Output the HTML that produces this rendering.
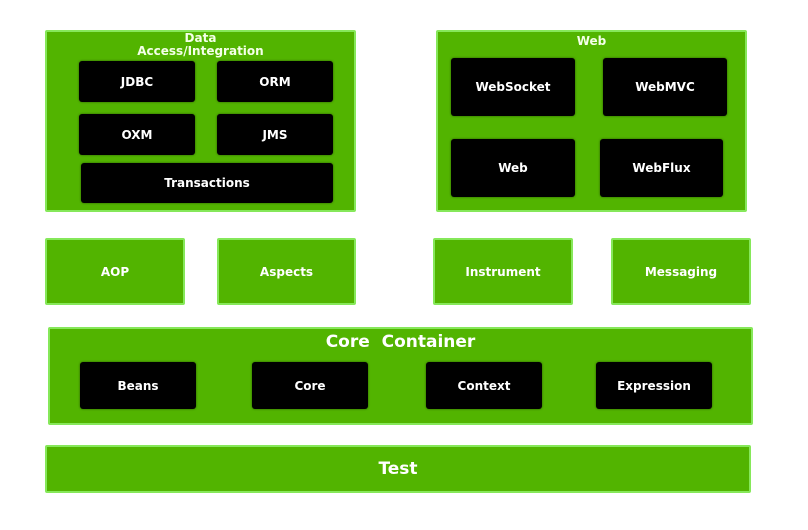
<!DOCTYPE html>
<html><head><style>
body{margin:0;width:808px;height:530px;background:#fff;position:relative;overflow:hidden;font-family:"DejaVu Sans","Liberation Sans",sans-serif;font-weight:bold;}
.g{position:absolute;background:#52b400;border:2px solid #86e85a;box-sizing:border-box;border-radius:2px;color:#fff;}
.b{position:absolute;background:#000;border-radius:3px;color:#fff;display:flex;align-items:center;justify-content:center;font-size:12px;box-shadow:0 0 2px #2a5a00;}
.c{display:flex;align-items:center;justify-content:center;font-size:12px;}
.t{position:absolute;text-align:center;font-size:12px;line-height:13px;color:#f4ffe8;}
</style></head><body>
<div class="g" style="left:45px;top:30px;width:311px;height:182px"></div>
<div class="t" style="left:45px;width:311px;top:32px;">Data<br>Access/Integration</div>
<div class="b" style="left:79px;top:61px;width:116px;height:41px">JDBC</div>
<div class="b" style="left:217px;top:61px;width:116px;height:41px">ORM</div>
<div class="b" style="left:79px;top:114px;width:116px;height:41px">OXM</div>
<div class="b" style="left:217px;top:114px;width:116px;height:41px">JMS</div>
<div class="b" style="left:81px;top:163px;width:252px;height:40px">Transactions</div>

<div class="g" style="left:436px;top:30px;width:311px;height:182px"></div>
<div class="t" style="left:436px;width:311px;top:35px;">Web</div>
<div class="b" style="left:451px;top:58px;width:124px;height:58px">WebSocket</div>
<div class="b" style="left:603px;top:58px;width:124px;height:58px">WebMVC</div>
<div class="b" style="left:451px;top:139px;width:124px;height:58px">Web</div>
<div class="b" style="left:600px;top:139px;width:123px;height:58px">WebFlux</div>

<div class="g c" style="left:45px;top:238px;width:140px;height:67px">AOP</div>
<div class="g c" style="left:217px;top:238px;width:139px;height:67px">Aspects</div>
<div class="g c" style="left:433px;top:238px;width:140px;height:67px">Instrument</div>
<div class="g c" style="left:611px;top:238px;width:140px;height:67px">Messaging</div>

<div class="g" style="left:48px;top:327px;width:705px;height:98px"></div>
<div class="t" style="left:48px;width:705px;top:332px;font-size:17px;line-height:20px;color:#fff;">Core&nbsp; Container</div>
<div class="b" style="left:80px;top:362px;width:116px;height:47px">Beans</div>
<div class="b" style="left:252px;top:362px;width:116px;height:47px">Core</div>
<div class="b" style="left:426px;top:362px;width:116px;height:47px">Context</div>
<div class="b" style="left:596px;top:362px;width:116px;height:47px">Expression</div>

<div class="g c" style="left:45px;top:445px;width:706px;height:48px;font-size:17px">Test</div>
</body></html>
